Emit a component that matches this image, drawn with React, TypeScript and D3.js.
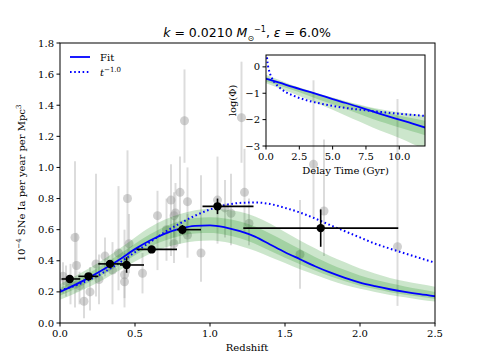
import React from "react";
import * as d3 from "d3";

// main panel: gray individual measurements
const grayZ = [0.02, 0.04, 0.07, 0.10, 0.11, 0.13, 0.16, 0.20, 0.24, 0.26, 0.30, 0.35, 0.39, 0.43, 0.43, 0.45, 0.46, 0.55, 0.65, 0.71, 0.74, 0.76, 0.77, 0.76, 0.80, 0.83, 0.85, 0.85, 0.94, 1.05, 1.10, 1.14, 1.21, 1.23, 1.26, 1.60, 1.69, 1.76, 2.25];
const grayR = [0.30, 0.27, 0.25, 0.55, 0.37, 0.24, 0.14, 0.20, 0.38, 0.28, 0.43, 0.34, 0.45, 0.31, 0.265, 0.80, 0.51, 0.32, 0.69, 0.60, 0.79, 0.69, 0.707, 0.51, 0.84, 1.30, 0.78, 0.565, 0.45, 0.79, 0.74, 0.705, 1.32, 0.84, 0.64, 0.44, 1.02, 0.72, 0.49];
const grayLo = [0.19, 0.17, 0.12, 0.10, 0.20, 0.12, 0.03, 0.08, 0.17, 0.12, 0.30, 0.12, 0.21, 0.16, 0.10, 0.40, 0.32, 0.19, 0.34, 0.40, 0.43, 0.55, 0.50, 0.385, 0.51, 1.03, 0.555, 0.42, 0.265, 0.51, 0.55, 0.50, 1.03, 0.58, 0.50, 0.22, 0.68, 0.43, 0.11];
const grayHi = [0.39, 0.37, 0.38, 1.04, 0.58, 0.33, 0.29, 0.36, 0.96, 0.44, 0.55, 0.52, 0.88, 0.60, 0.45, 1.11, 0.70, 0.45, 0.85, 0.80, 1.02, 0.84, 0.90, 0.67, 1.07, 1.63, 1.00, 0.70, 0.95, 1.07, 0.92, 0.96, 1.68, 1.12, 0.80, 0.79, 1.56, 1.18, 1.44];

// binned black points
const binZ = [0.065, 0.19, 0.333, 0.444, 0.611, 0.816, 1.05, 1.738];
const binR = [0.283, 0.30, 0.38, 0.373, 0.473, 0.60, 0.75, 0.61];
const binZlo = [0.01, 0.122, 0.255, 0.40, 0.51, 0.78, 0.95, 1.222];
const binZhi = [0.135, 0.255, 0.42, 0.56, 0.78, 0.94, 1.29, 2.255];
const binRerr = [0.025, 0.02, 0.025, 0.05, 0.02, 0.03, 0.05, 0.12];

// fit curve and bands
const zGrid = [0, 0.1, 0.2, 0.3, 0.4, 0.5, 0.6, 0.7, 0.8, 0.9, 1.0, 1.1, 1.2, 1.3, 1.4, 1.5, 1.6, 1.7, 1.8, 1.9, 2.0, 2.1, 2.2, 2.3, 2.4, 2.5];
const fitR = [0.20, 0.245, 0.295, 0.35, 0.41, 0.475, 0.53, 0.575, 0.607, 0.625, 0.628, 0.615, 0.59, 0.555, 0.505, 0.455, 0.41, 0.365, 0.325, 0.29, 0.26, 0.237, 0.217, 0.20, 0.185, 0.172];
const lo95 = [0.15, 0.19, 0.235, 0.285, 0.34, 0.395, 0.445, 0.485, 0.51, 0.525, 0.53, 0.52, 0.495, 0.465, 0.425, 0.385, 0.345, 0.31, 0.275, 0.245, 0.22, 0.20, 0.18, 0.165, 0.15, 0.138];
const hi95 = [0.25, 0.30, 0.355, 0.415, 0.48, 0.55, 0.615, 0.665, 0.70, 0.725, 0.735, 0.73, 0.715, 0.685, 0.64, 0.585, 0.53, 0.48, 0.43, 0.39, 0.35, 0.318, 0.29, 0.268, 0.25, 0.233];
const lo68 = [0.175, 0.218, 0.265, 0.318, 0.375, 0.435, 0.49, 0.53, 0.56, 0.575, 0.578, 0.568, 0.545, 0.51, 0.465, 0.42, 0.378, 0.338, 0.30, 0.268, 0.24, 0.218, 0.198, 0.182, 0.168, 0.155];
const hi68 = [0.225, 0.272, 0.325, 0.382, 0.445, 0.51, 0.57, 0.62, 0.655, 0.675, 0.68, 0.672, 0.652, 0.62, 0.575, 0.525, 0.475, 0.425, 0.38, 0.34, 0.305, 0.278, 0.255, 0.235, 0.217, 0.20];
const powR = [0.21, 0.24, 0.28, 0.33, 0.39, 0.455, 0.52, 0.585, 0.64, 0.69, 0.73, 0.758, 0.772, 0.775, 0.765, 0.74, 0.71, 0.672, 0.63, 0.59, 0.55, 0.51, 0.478, 0.447, 0.417, 0.388];

const xTicks = [0, 0.5, 1.0, 1.5, 2.0, 2.5];
const yTicks = [0, 0.2, 0.4, 0.6, 0.8, 1.0, 1.2, 1.4, 1.6, 1.8];

// inset: delay time distribution
const tGrid = [0, 1, 2, 3, 4, 5, 6, 7, 8, 9, 10, 11, 12];
const dtdFit = [-0.45, -0.60, -0.76, -0.91, -1.06, -1.22, -1.37, -1.53, -1.69, -1.85, -2.0, -2.15, -2.31];
const dtdLo95 = [-0.62, -0.81, -1.0, -1.21, -1.42, -1.63, -1.85, -2.07, -2.3, -2.5, -2.7, -2.92, -3.15];
const dtdHi95 = [-0.30, -0.50, -0.70, -0.86, -1.02, -1.16, -1.30, -1.43, -1.55, -1.64, -1.72, -1.79, -1.85];
const dtdLo68 = [-0.55, -0.71, -0.88, -1.06, -1.25, -1.42, -1.60, -1.79, -1.98, -2.14, -2.30, -2.45, -2.60];
const dtdHi68 = [-0.38, -0.55, -0.72, -0.88, -1.05, -1.19, -1.33, -1.46, -1.58, -1.72, -1.85, -1.95, -2.05];
const powT = [0.05, 0.1, 0.15, 0.2, 0.3, 0.4, 0.5, 0.7, 1, 1.5, 2, 3, 4, 5, 6, 7, 8, 9, 10, 11, 12];
const powLog = [0.52, 0.22, 0.04, -0.08, -0.26, -0.38, -0.48, -0.63, -0.78, -0.96, -1.08, -1.26, -1.38, -1.48, -1.56, -1.62, -1.68, -1.73, -1.78, -1.82, -1.86];
const insetXTicks = [0, 2.5, 5.0, 7.5, 10.0];
const insetYTicks = [-3, -2, -1, 0];

const BLUE = "#0000ff";
const serif = "'DejaVu Serif', serif";
const sans = "'DejaVu Sans', sans-serif";

export default function App() {
  const W = 484, H = 363;
  const m = { left: 60, right: 435, top: 43, bottom: 323 };
  const x = d3.scaleLinear().domain([0, 2.5]).range([m.left, m.right]);
  const y = d3.scaleLinear().domain([0, 1.8]).range([m.bottom, m.top]);

  const ins = { left: 266, right: 425, top: 55, bottom: 146 };
  const ix = d3.scaleLinear().domain([0, 11.93]).range([ins.left, ins.right]);
  const iy = d3.scaleLinear().domain([-3, 0.45]).range([ins.bottom, ins.top]);

  const line = d3.line<number>().x((_, i) => x(zGrid[i])).y(d => y(d)).curve(d3.curveMonotoneX);
  const band = (lo: number[], hi: number[]) =>
    d3.area<number>().x((_, i) => x(zGrid[i])).y0((_, i) => y(lo[i])).y1((_, i) => y(hi[i])).curve(d3.curveMonotoneX)(zGrid) || "";

  const iline = d3.line<number>().x((_, i) => ix(tGrid[i])).y(d => iy(d)).curve(d3.curveMonotoneX);
  const iband = (lo: number[], hi: number[]) =>
    d3.area<number>().x((_, i) => ix(tGrid[i])).y0((_, i) => iy(lo[i])).y1((_, i) => iy(hi[i])).curve(d3.curveMonotoneX)(tGrid) || "";
  const ipow = d3.line<number>().x((_, i) => ix(powT[i])).y(d => iy(d)).curve(d3.curveMonotoneX)(powLog) || "";

  return (
    <svg width={W} height={H} style={{ position: "absolute", left: 0, top: 0, background: "#fff" }}>
      <defs>
        <clipPath id="mainClip"><rect x={m.left} y={m.top} width={m.right - m.left} height={m.bottom - m.top} /></clipPath>
        <clipPath id="insetClip"><rect x={ins.left} y={ins.top} width={ins.right - ins.left} height={ins.bottom - ins.top} /></clipPath>
      </defs>

      {/* title */}
      <text x={247} y={37} textAnchor="middle" fontFamily={sans} fontSize={12.5}>
        <tspan fontStyle="italic">k</tspan> = 0.0210 <tspan fontStyle="italic">M</tspan>
        <tspan fontSize={8} dy={4}>⊙</tspan>
        <tspan fontSize={8} dy={-9}>−1</tspan>
        <tspan dy={5}>,  </tspan><tspan fontStyle="italic">ε</tspan> = 6.0%
      </text>

      <g clipPath="url(#mainClip)">
        {grayZ.map((z, i) => (
          <g key={"g" + i}>
            <line x1={x(z)} x2={x(z)} y1={y(grayLo[i])} y2={y(grayHi[i])} stroke="#9a9a9a" strokeOpacity={0.35} strokeWidth={2} />
            <circle cx={x(z)} cy={y(grayR[i])} r={4.5} fill="#9a9a9a" fillOpacity={0.45} />
          </g>
        ))}
        <path d={band(lo95, hi95)} fill="green" fillOpacity={0.2} />
        <path d={band(lo68, hi68)} fill="green" fillOpacity={0.2} />
        <path d={line(fitR) || ""} fill="none" stroke={BLUE} strokeWidth={1.8} />
        <path d={line(powR) || ""} fill="none" stroke={BLUE} strokeWidth={2} strokeDasharray="1.6,2.6" />
        {binZ.map((z, i) => (
          <g key={"b" + i}>
            <line x1={x(binZlo[i])} x2={x(binZhi[i])} y1={y(binR[i])} y2={y(binR[i])} stroke="#000" strokeWidth={1.6} />
            <line x1={x(z)} x2={x(z)} y1={y(binR[i] - binRerr[i])} y2={y(binR[i] + binRerr[i])} stroke="#000" strokeWidth={1.6} />
            <circle cx={x(z)} cy={y(binR[i])} r={4.2} fill="#000" />
          </g>
        ))}
      </g>

      {/* main axes */}
      <rect x={m.left} y={m.top} width={m.right - m.left} height={m.bottom - m.top} fill="none" stroke="#000" strokeWidth={1} />
      {xTicks.map(t => (
        <g key={"xt" + t}>
          <line x1={x(t)} x2={x(t)} y1={m.bottom} y2={m.bottom + 3.5} stroke="#000" />
          <text x={x(t)} y={m.bottom + 14} textAnchor="middle" fontFamily={serif} fontSize={10}>{t.toFixed(1)}</text>
        </g>
      ))}
      {yTicks.map(t => (
        <g key={"yt" + t}>
          <line x1={m.left - 3.5} x2={m.left} y1={y(t)} y2={y(t)} stroke="#000" />
          <text x={m.left - 6} y={y(t) + 3.5} textAnchor="end" fontFamily={serif} fontSize={10}>{t.toFixed(1)}</text>
        </g>
      ))}
      <text x={247} y={351} textAnchor="middle" fontFamily={serif} fontSize={10}>Redshift</text>
      <text transform={`translate(25,${(m.top + m.bottom) / 2}) rotate(-90)`} textAnchor="middle" fontFamily={serif} fontSize={10}>
        10<tspan fontSize={7} dy={-4}>−4</tspan><tspan dy={4}> SNe Ia per year per Mpc</tspan><tspan fontSize={7} dy={-4}>3</tspan>
      </text>

      {/* legend */}
      <line x1={70} x2={90} y1={57} y2={57} stroke={BLUE} strokeWidth={1.8} />
      <text x={100} y={61} fontFamily={serif} fontSize={10}>Fit</text>
      <line x1={70} x2={90} y1={72} y2={72} stroke={BLUE} strokeWidth={2} strokeDasharray="1.6,2.6" />
      <text x={100} y={76} fontFamily={serif} fontSize={10} fontStyle="italic">t<tspan fontSize={7} dy={-4} fontStyle="normal">−1.0</tspan></text>

      {/* inset */}
      <g clipPath="url(#insetClip)">
        <path d={iband(dtdLo95, dtdHi95)} fill="green" fillOpacity={0.2} />
        <path d={iband(dtdLo68, dtdHi68)} fill="green" fillOpacity={0.2} />
        <path d={iline(dtdFit) || ""} fill="none" stroke={BLUE} strokeWidth={1.8} />
        <path d={ipow} fill="none" stroke={BLUE} strokeWidth={2} strokeDasharray="1.6,2.6" />
      </g>
      <rect x={ins.left} y={ins.top} width={ins.right - ins.left} height={ins.bottom - ins.top} fill="none" stroke="#000" strokeWidth={1} />
      {insetXTicks.map(t => (
        <g key={"ixt" + t}>
          <line x1={ix(t)} x2={ix(t)} y1={ins.bottom} y2={ins.bottom + 3.5} stroke="#000" />
          <text x={ix(t)} y={ins.bottom + 14} textAnchor="middle" fontFamily={serif} fontSize={10}>{t.toFixed(1)}</text>
        </g>
      ))}
      {insetYTicks.map(t => (
        <g key={"iyt" + t}>
          <line x1={ins.left - 3.5} x2={ins.left} y1={iy(t)} y2={iy(t)} stroke="#000" />
          <text x={ins.left - 6} y={iy(t) + 3.5} textAnchor="end" fontFamily={serif} fontSize={10}>{t < 0 ? "−" + Math.abs(t) : t}</text>
        </g>
      ))}
      <text x={(ins.left + ins.right) / 2} y={174} textAnchor="middle" fontFamily={serif} fontSize={10}>Delay Time (Gyr)</text>
      <text transform={`translate(236,${(ins.top + ins.bottom) / 2}) rotate(-90)`} textAnchor="middle" fontFamily={serif} fontSize={10}>log(Φ)</text>
    </svg>
  );
}
